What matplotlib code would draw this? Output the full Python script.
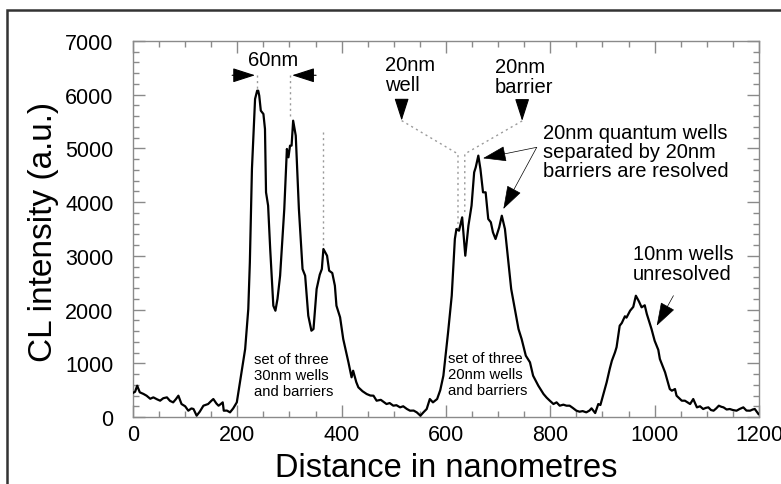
"""CL intensity line scan across quantum well sets, redrawn with matplotlib."""
import matplotlib
matplotlib.use("Agg")
import matplotlib.pyplot as plt
from matplotlib.patches import Rectangle
from matplotlib.ticker import MultipleLocator

plt.rcParams["font.family"] = ["Liberation Sans", "DejaVu Sans"]

# distance along the scan (nm) and CL intensity (a.u.)
DIST = [0, 4, 8, 13, 20, 26, 33, 39, 46, 52, 58, 65, 71, 77, 82, 87, 93, 100,
        106, 112, 116, 122, 128, 135, 144, 150, 154, 160, 164, 168, 172, 174,
        180, 186, 192, 199, 205, 210, 215, 221, 224, 228, 234, 238, 240, 242,
        245, 250, 253, 255, 259, 263, 269, 273, 277, 282, 290, 295, 298, 301,
        304, 307, 312, 318, 325, 330, 336, 342, 346, 352, 358, 362, 365, 372,
        376, 382, 387, 390, 397, 403, 410, 413, 419, 422, 428, 432, 440, 448,
        455, 461, 467, 475, 480, 486, 492, 499, 505, 512, 518, 525, 531, 538,
        544, 551, 557, 563, 569, 575, 583, 589, 595, 604, 611, 617, 620, 625,
        631, 637, 643, 649, 654, 657, 662, 666, 671, 676, 681, 686, 690, 695,
        702, 707, 713, 719, 725, 732, 739, 745, 753, 761, 767, 777, 787, 793,
        799, 806, 812, 818, 825, 831, 837, 843, 850, 856, 862, 869, 875, 879,
        886, 892, 896, 901, 908, 914, 918, 924, 927, 933, 937, 943, 946, 953,
        959, 964, 970, 975, 981, 985, 994, 1000, 1007, 1010, 1020, 1029, 1033,
        1039, 1042, 1052, 1058, 1068, 1074, 1081, 1087, 1093, 1098, 1103,
        1108, 1113, 1118, 1123, 1128, 1132, 1138, 1144, 1150, 1157, 1163,
        1170, 1176, 1183, 1188, 1192, 1199]
CL = [450, 470, 583, 460, 430, 397, 340, 366, 330, 304, 350, 366, 300, 273,
      330, 397, 242, 200, 118, 160, 149, 25, 100, 211, 242, 300, 335, 250,
      211, 240, 273, 118, 120, 87, 160, 273, 645, 950, 1266, 2011, 2880, 4617,
      5921, 6075, 6075, 5983, 5703, 5641, 5362, 4183, 3935, 3128, 2072, 1979,
      2200, 2631, 3873, 4990, 4835, 5052, 5052, 5517, 5238, 3873, 2755, 2631,
      1886, 1607, 1638, 2383, 2650, 2755, 3128, 3003, 2724, 2681, 2445, 2072,
      1856, 1452, 1150, 1018, 739, 862, 650, 553, 480, 428, 400, 397, 304,
      320, 285, 242, 260, 211, 220, 180, 200, 150, 118, 120, 87, 25, 90, 149,
      335, 273, 335, 500, 769, 1576, 2258, 3314, 3500, 3469, 3717, 3003, 3562,
      3935, 4555, 4648, 4866, 4617, 4183, 4183, 3687, 3625, 3439, 3314, 3531,
      3748, 3500, 2942, 2383, 2011, 1638, 1452, 1142, 1018, 769, 583, 428,
      360, 304, 242, 273, 211, 230, 211, 211, 170, 118, 99, 110, 87, 120, 162,
      74, 242, 223, 400, 646, 900, 1048, 1204, 1300, 1700, 1750, 1875, 1850,
      1980, 2050, 2258, 2150, 2042, 2080, 1918, 1638, 1420, 1250, 1080, 832,
      521, 490, 521, 397, 304, 304, 242, 335, 180, 200, 149, 170, 180, 130,
      118, 160, 211, 190, 180, 140, 149, 130, 118, 150, 180, 120, 118, 140,
      149, 56]

GUIDE = "#9a9a9a"
AX_GRAY = "#8a8a8a"
ANN_FS = 14.5

fig = plt.figure(figsize=(7.81, 4.85), dpi=100)
ax = fig.add_axes([0.1703, 0.1381, 0.8015, 0.7753])

ax.plot(DIST, CL, color="black", lw=1.6, zorder=3)

ax.set_xlim(0, 1200)
ax.set_ylim(0, 7000)
ax.xaxis.set_major_locator(MultipleLocator(200))
ax.xaxis.set_minor_locator(MultipleLocator(50))
ax.yaxis.set_major_locator(MultipleLocator(1000))
ax.yaxis.set_minor_locator(MultipleLocator(200))
ax.tick_params(which="both", direction="in", top=True, right=True,
               color=AX_GRAY, width=1.0, labelsize=15.5)
ax.tick_params(which="major", length=8.5)
ax.tick_params(which="minor", length=4.3)
ax.tick_params(axis="y", which="major", pad=14)
ax.tick_params(axis="x", which="major", pad=5)
for sp in ax.spines.values():
    sp.set_color(AX_GRAY)
    sp.set_linewidth(1.0)

ax.set_xlabel("Distance in nanometres", fontsize=23.5)
ax.xaxis.set_label_coords(0.5, -0.092)
ax.set_ylabel("CL intensity (a.u.)", fontsize=24)
ax.yaxis.set_label_coords(-0.118, 0.495)

# 60nm spacing marker
arrow_kw = dict(arrowstyle="-|>,head_length=1.4,head_width=0.45",
                color="black", lw=0.8, mutation_scale=10, shrinkA=0, shrinkB=0)
ax.annotate("", xy=(234, 6362), xytext=(190, 6362), arrowprops=arrow_kw)
ax.annotate("", xy=(305, 6362), xytext=(351, 6362), arrowprops=arrow_kw)
ax.text(268, 6560, "60nm", fontsize=ANN_FS, ha="center", va="baseline")
dot = dict(color=GUIDE, lw=1.0, ls=(0, (1.5, 2.5)), zorder=2)
ax.plot([237, 237], [6362, 6100], **dot)
ax.plot([301, 301], [6362, 5600], **dot)
ax.plot([365, 365], [5300, 3128], **dot)

# 20nm well / barrier guides
ax.text(483, 6740, "20nm\nwell", fontsize=ANN_FS, ha="left", va="top",
        linespacing=1.05)
ax.text(694, 6703, "20nm\nbarrier", fontsize=ANN_FS, ha="left", va="top",
        linespacing=1.05)
ax.annotate("", xy=(515, 5518), xytext=(515, 5900), arrowprops=arrow_kw)
ax.annotate("", xy=(746, 5512), xytext=(746, 5900), arrowprops=arrow_kw)
ax.plot([515, 623, 623], [5518, 4897, 3500], **dot)
ax.plot([746, 636, 636], [5512, 4897, 3750], **dot)

# resolved wells note
thin = dict(arrowstyle="-|>,head_length=1.5,head_width=0.5", color="black",
            lw=0.5, mutation_scale=10, shrinkA=0, shrinkB=0)
ax.text(786, 5474, "20nm quantum wells\nseparated by 20nm\nbarriers are resolved",
        fontsize=ANN_FS, ha="left", va="top", linespacing=1.0)
ax.annotate("", xy=(671, 4817), xytext=(774, 5021), arrowprops=thin)
ax.annotate("", xy=(710, 3873), xytext=(774, 5021), arrowprops=thin)

# unresolved wells note
ax.text(958, 3221, "10nm wells\nunresolved", fontsize=ANN_FS, ha="left",
        va="top", linespacing=1.05)
ax.annotate("", xy=(1004, 1700), xytext=(1036, 2259), arrowprops=thin)

# labels under the first two peaks
ax.text(232, 1202, "set of three\n30nm wells\nand barriers", fontsize=10.7,
        ha="left", va="top", linespacing=1.15)
ax.text(604, 1220, "set of three\n20nm wells\nand barriers", fontsize=10.7,
        ha="left", va="top", linespacing=1.15)

# outer frame running off the right and bottom edges
fig.patches.append(Rectangle((6.5 / 781, -0.2), 1.5, 1.2 - 10.7 / 485,
                             transform=fig.transFigure, fill=False,
                             lw=1.8, ec="#333333"))

fig.savefig("out.png", dpi=100)
